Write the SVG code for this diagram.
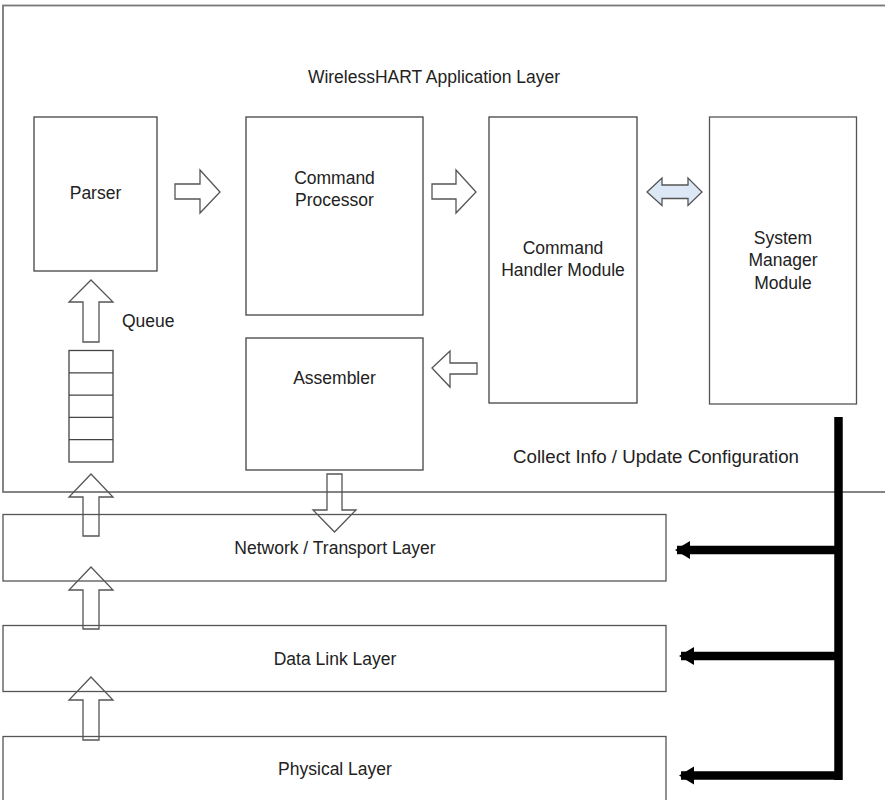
<svg xmlns="http://www.w3.org/2000/svg" width="885" height="800" viewBox="0 0 885 800">
<style>
  text { font-family: "Liberation Sans", Arial, sans-serif; font-size: 17.5px; fill: #222; text-anchor: middle; }
  .box { fill: none; stroke: #555; stroke-width: 1.3; }
  .outer { fill: none; stroke: #777; stroke-width: 1.8; }
  .blk { fill: none; stroke: #444; stroke-width: 1.3; }
  .arr { fill: none; stroke: #555; stroke-width: 1.3; stroke-linejoin: miter; }
  .thick { stroke: #000; stroke-width: 8.5; fill: none; }
</style>
<defs>
  <marker id="ah" markerUnits="userSpaceOnUse" markerWidth="16" markerHeight="20" refX="13" refY="10" orient="auto">
    <path d="M0,1 L15,10 L0,19 Z" fill="#000"/>
  </marker>
</defs>
<rect width="885" height="800" fill="#fff"/>

<g id="app-layer">
  <rect class="outer" x="3" y="5.5" width="900" height="486.5"/>
  <text x="434" y="83">WirelessHART Application Layer</text>
  <text x="513" y="463" style="text-anchor:start" textLength="286" lengthAdjust="spacingAndGlyphs">Collect Info / Update Configuration</text>
</g>

<g id="parser">
  <rect class="blk" x="34" y="117" width="123" height="154"/>
  <text x="95.5" y="199">Parser</text>
</g>
<g id="command-processor">
  <rect class="blk" x="246" y="117" width="177" height="198"/>
  <text x="334.5" y="184">Command</text>
  <text x="334.5" y="206">Processor</text>
</g>
<g id="command-handler">
  <rect class="blk" x="489" y="117" width="148" height="286"/>
  <text x="563" y="254">Command</text>
  <text x="563" y="276">Handler Module</text>
</g>
<g id="system-manager">
  <rect class="box" x="709.5" y="117" width="147" height="287"/>
  <text x="783" y="244">System</text>
  <text x="783" y="266">Manager</text>
  <text x="783" y="289">Module</text>
</g>
<g id="assembler">
  <rect class="blk" x="246" y="338" width="177" height="132"/>
  <text x="334.5" y="384">Assembler</text>
</g>
<g id="queue">
  <rect class="blk" x="69" y="350.5" width="44" height="111.5"/>
  <line class="blk" x1="69" y1="372.8" x2="113" y2="372.8"/>
  <line class="blk" x1="69" y1="395.1" x2="113" y2="395.1"/>
  <line class="blk" x1="69" y1="417.4" x2="113" y2="417.4"/>
  <line class="blk" x1="69" y1="439.7" x2="113" y2="439.7"/>
  <text x="122" y="327" style="text-anchor:start">Queue</text>
</g>

<g id="network-layer">
  <rect class="box" x="3" y="514.5" width="663" height="66.5"/>
  <text x="335" y="554">Network / Transport Layer</text>
</g>
<g id="datalink-layer">
  <rect class="box" x="3" y="625.5" width="663" height="66"/>
  <text x="335" y="665">Data Link Layer</text>
</g>
<g id="physical-layer">
  <rect class="box" x="3" y="736.5" width="663" height="70"/>
  <text x="335" y="775">Physical Layer</text>
</g>

<g id="connectors">
  <path class="arr" d="M175,184 H200 V170 L220,192 L200,213 V199 H175 Z"/>
  <path class="arr" d="M432,184 H456 V170 L476,192 L456,213 V199 H432 Z"/>
  <path class="arr" d="M647,192 L662,178 V185 H688 V178 L702,192 L688,205.5 V198.5 H662 V205.5 Z" style="fill:#dde8f6"/>
  <path class="arr" d="M432,368 L450,351 V363 H477 V374 H450 V387 Z"/>
  <path class="arr" d="M91,280 L113,302 H99 V342 H83 V302 H69 Z"/>
  <path class="arr" d="M91,474 L113,497 H99 V536 H83 V497 H69 Z"/>
  <path class="arr" d="M91,567 L113,590 H99 V629 H83 V590 H69 Z"/>
  <path class="arr" d="M91,677 L113,700 H99 V740 H83 V700 H69 Z"/>
  <path class="arr" d="M327,474 H342 V510 H356 L334.5,532 L313,510 H327 Z"/>

  <line class="thick" x1="838.5" y1="417" x2="838.5" y2="780"/>
  <line class="thick" x1="838" y1="550" x2="677" y2="550" marker-end="url(#ah)"/>
  <line class="thick" x1="838" y1="656" x2="681" y2="656" marker-end="url(#ah)"/>
  <line class="thick" x1="838" y1="775.5" x2="681" y2="775.5" marker-end="url(#ah)"/>
</g>
</svg>
